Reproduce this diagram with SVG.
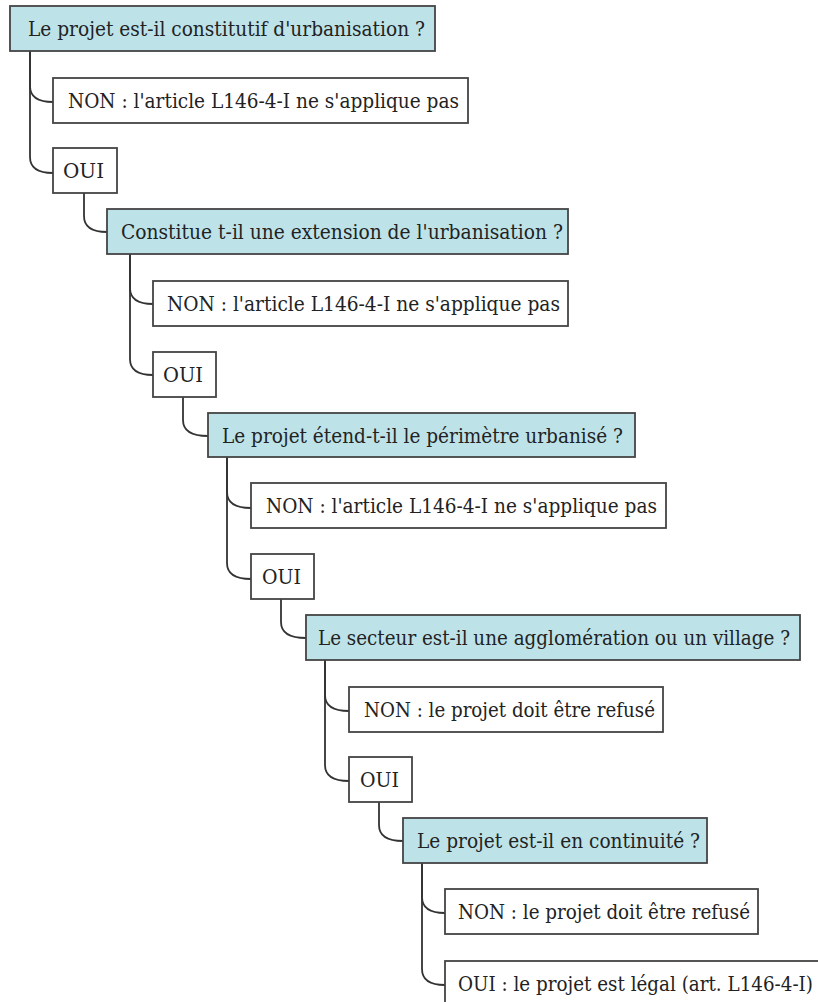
<svg xmlns="http://www.w3.org/2000/svg" width="818" height="1002" viewBox="0 0 818 1002">
<style>
.q{fill:#bde3e9;stroke:#444;stroke-width:1.8}
.a{fill:#fff;stroke:#444;stroke-width:1.8}
.t{font-family:"DejaVu Serif","Liberation Serif",serif;font-size:19.5px;fill:#222}
.c{fill:none;stroke:#333;stroke-width:1.8}
</style>
<rect width="818" height="1002" fill="#fff"/>
<g id="connectors">
<path class="c" d="M30,51 V86 C30,97 39,102 53,102"/>
<path class="c" d="M30,51 V157 C30,168 39,173 53,173"/>
<path class="c" d="M84,193 V216 C84,227 93,232 107,232"/>
<path class="c" d="M130,253 V288 C130,299 139,304 153,304"/>
<path class="c" d="M130,253 V359 C130,370 139,375 153,375"/>
<path class="c" d="M183,397 V420 C183,431 192,436 208,436"/>
<path class="c" d="M227,457 V492 C227,503 236,508 251,508"/>
<path class="c" d="M227,457 V563 C227,574 236,579 251,579"/>
<path class="c" d="M281,599 V622 C281,633 290,638 306,638"/>
<path class="c" d="M325,660 V695 C325,706 334,711 349,711"/>
<path class="c" d="M325,660 V765 C325,776 334,781 349,781"/>
<path class="c" d="M379,802 V825 C379,836 388,841 403,841"/>
<path class="c" d="M422,863 V897 C422,908 431,913 445,913"/>
<path class="c" d="M422,863 V969 C422,980 431,985 445,985"/>
</g>
<g id="q1"><rect class="q" x="10" y="6" width="425" height="45"/><text class="t" x="28" y="36" textLength="397" lengthAdjust="spacingAndGlyphs">Le projet est-il constitutif d'urbanisation ?</text></g>
<g id="non1"><rect class="a" x="53" y="78" width="415" height="45"/><text class="t" x="68" y="108" textLength="391" lengthAdjust="spacingAndGlyphs">NON : l'article L146-4-I ne s'applique pas</text></g>
<g id="oui1"><rect class="a" x="53" y="148" width="64" height="45"/><text class="t" x="63" y="178" textLength="41" lengthAdjust="spacingAndGlyphs">OUI</text></g>
<g id="q2"><rect class="q" x="107" y="209" width="461" height="45"/><text class="t" x="121" y="239" textLength="442" lengthAdjust="spacingAndGlyphs">Constitue t-il une extension de l'urbanisation ?</text></g>
<g id="non2"><rect class="a" x="153" y="281" width="415" height="45"/><text class="t" x="167" y="311" textLength="393" lengthAdjust="spacingAndGlyphs">NON : l'article L146-4-I ne s'applique pas</text></g>
<g id="oui2"><rect class="a" x="153" y="352" width="63" height="45"/><text class="t" x="163" y="382" textLength="40" lengthAdjust="spacingAndGlyphs">OUI</text></g>
<g id="q3"><rect class="q" x="208" y="413" width="427" height="44"/><text class="t" x="222" y="443" textLength="401" lengthAdjust="spacingAndGlyphs">Le projet étend-t-il le périmètre urbanisé ?</text></g>
<g id="non3"><rect class="a" x="251" y="483" width="415" height="45"/><text class="t" x="266" y="513" textLength="391" lengthAdjust="spacingAndGlyphs">NON : l'article L146-4-I ne s'applique pas</text></g>
<g id="oui3"><rect class="a" x="251" y="554" width="63" height="45"/><text class="t" x="262" y="584" textLength="39" lengthAdjust="spacingAndGlyphs">OUI</text></g>
<g id="q4"><rect class="q" x="306" y="615" width="494" height="45"/><text class="t" x="318" y="645" textLength="472" lengthAdjust="spacingAndGlyphs">Le secteur est-il une agglomération ou un village ?</text></g>
<g id="non4"><rect class="a" x="349" y="687" width="314" height="45"/><text class="t" x="364" y="717" textLength="291" lengthAdjust="spacingAndGlyphs">NON : le projet doit être refusé</text></g>
<g id="oui4"><rect class="a" x="349" y="757" width="63" height="45"/><text class="t" x="360" y="787" textLength="39" lengthAdjust="spacingAndGlyphs">OUI</text></g>
<g id="q5"><rect class="q" x="403" y="818" width="304" height="45"/><text class="t" x="417" y="848" textLength="283" lengthAdjust="spacingAndGlyphs">Le projet est-il en continuité ?</text></g>
<g id="non5"><rect class="a" x="445" y="889" width="313" height="45"/><text class="t" x="458" y="919" textLength="292" lengthAdjust="spacingAndGlyphs">NON : le projet doit être refusé</text></g>
<g id="oui5"><rect class="a" x="445" y="961" width="390" height="50"/><text class="t" x="458" y="991" textLength="355" lengthAdjust="spacingAndGlyphs">OUI : le projet est légal (art. L146-4-I)</text></g>
</svg>
